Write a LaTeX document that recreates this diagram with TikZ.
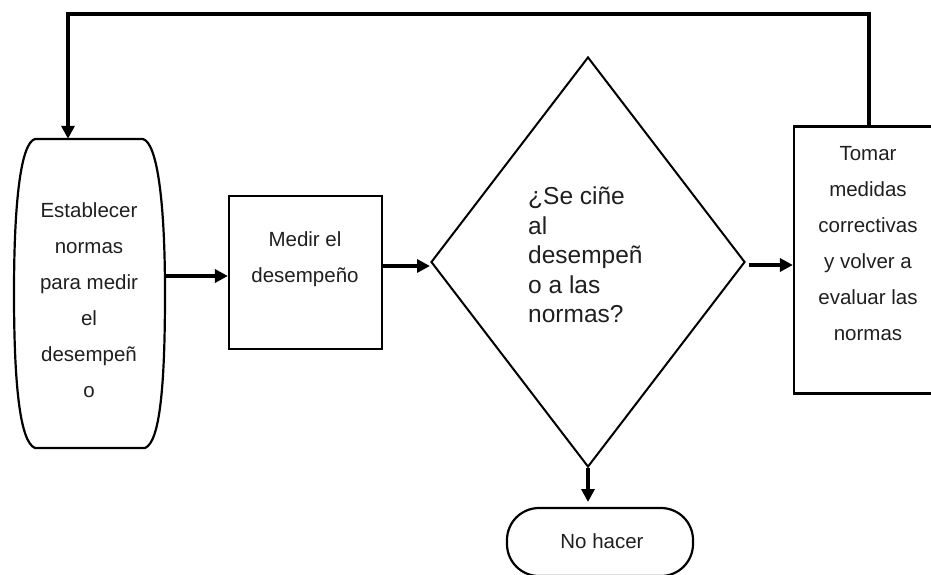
\documentclass[tikz,border=0pt]{standalone}
\usepackage{fontspec}
\setmainfont{Liberation Sans}
\usetikzlibrary{arrows.meta,shapes.geometric}

\tikzset{
  outline/.style={draw=black, line width=2.2pt},
  boxnode/.style={outline, rectangle, inner sep=0pt},
  body/.style={font=\fontsize{20.5}{36}\selectfont, text=black!88, align=center, inner sep=0pt},
  question/.style={font=\fontsize{24.5}{29.5}\selectfont, text=black!88, align=left, inner sep=0pt},
  flow/.style={line width=3.6pt, -{Triangle[length=13pt,width=13pt]}},
  plainline/.style={line width=3.6pt}
}

\begin{document}
\begin{tikzpicture}[x=1pt,y=-1pt]
  \useasboundingbox (0,0) rectangle (931,574);
  \clip (0,0) rectangle (931,574);

  % start: set the standards (rounded, bulging outline)
  \node (est) [minimum width=151pt, minimum height=309pt, inner sep=0pt] at (89.5,293.5) {};
  \draw[outline] (35,139) -- (143,139)
     .. controls (157,143) and (165,200) .. (165,293)
     .. controls (165,385) and (160,442) .. (145,448)
     -- (35,448)
     .. controls (20,442) and (14,385) .. (14,293)
     .. controls (14,200) and (21,143) .. (35,139) -- cycle;
  \node (esttxt) [body] at (89,300) {Establecer\\normas\\para medir\\el\\desempeñ\\o};

  % measure the performance
  \node (medir) [boxnode, minimum width=153pt, minimum height=153pt] at (305.5,272.5) {};
  \node (medirtxt) [body] at (305,259) {Medir el\\desempeño};

  % decision
  \node (dec) [outline, line width=2pt, diamond, minimum width=314pt, minimum height=410pt, inner sep=0pt] at (588,262) {};
  \node (dectxt) [question, anchor=west] at (528,255) {¿Se ciñe\\al\\desempeñ\\o a las\\normas?};

  % corrective action (runs past the right edge)
  \node (corr) [boxnode, minimum width=145pt, minimum height=267pt] at (866.5,260) {};
  \node (corrtxt) [body] at (868,244) {Tomar\\medidas\\correctivas\\y volver a\\evaluar las\\normas};

  % do nothing
  \node (nada) [outline, rectangle, rounded corners=32pt, minimum width=186pt, minimum height=68pt, inner sep=0pt] at (600,542) {};
  \node (nadatxt) [body] at (602,541) {No hacer};

  % connectors
  \coordinate (a1) at (165,276);
  \draw[flow] (a1) -- (a1 -| medir.west);
  \coordinate (a2) at (382,266);
  \draw[flow] (a2) -- (a2 -| dec.west);
  \coordinate (a3) at (749,265);
  \draw[flow] (a3) -- (a3 -| corr.west);
  \draw[flow] (dec.south) -- ++(0,34);

  % feedback loop back to the start
  \coordinate (top1) at (869,14);
  \coordinate (top2) at (68,14);
  \draw[plainline, line cap=rect] (corr.north -| top1) -- (top1) -- (top2);
  \draw[flow] (top2) -- (top2 |- est.north);
\end{tikzpicture}
\end{document}
